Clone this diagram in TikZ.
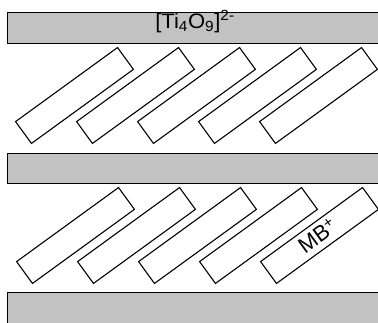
\documentclass[tikz,border=0pt]{standalone}
\usepackage{fontspec}
\setmainfont{Liberation Sans}
\usetikzlibrary{positioning}
\tikzstyle{band} = [rectangle,
			draw,
			line width = 0.8pt,
			fill = black!24,
			inner sep = 0pt,
			minimum width = 373pt]
\tikzstyle{dye} = [rectangle,
			draw,
			line width = 1.1pt,
			inner sep = 0pt,
			rotate = 36,
			minimum width = 126pt,
			minimum height = 27pt]
\tikzstyle{tag} = [inner sep = 0pt,
			font = \fontsize{21}{25}\selectfont]

\begin{document}
\begin{tikzpicture}[x = 1pt, y = 1pt, node distance = 1em]
	\useasboundingbox (0,0) rectangle (378,323);
	% inorganic layers
	\node [band, minimum height = 31pt] (layer1) at (193.5,295.5) {};
	\node [band, minimum height = 30pt] (layer2) at (193.5,155) {};
	\node [band, minimum height = 33pt] (layer3) at (193.5,14.5) {};
	\node [tag, anchor = base] (anion) at (195,294.7)
		{\scalebox{1.05}[1]{[Ti\textsubscript{4}O\textsubscript{9}]\textsuperscript{2-}}};
	% upper gallery
	\node [dye] (dye1) at (74.5,227.5) {};
	\node [dye] (dye2) at ([xshift=61pt]dye1) {};
	\node [dye] (dye3) at ([xshift=61pt]dye2) {};
	\node [dye] (dye4) at ([xshift=61pt]dye3) {};
	\node [dye] (dye5) at ([xshift=61pt]dye4) {};
	% lower gallery
	\node [dye] (dye6) at ([xshift=1pt, yshift=-140pt]dye1) {};
	\node [dye] (dye7) at ([xshift=61pt]dye6) {};
	\node [dye] (dye8) at ([xshift=61pt]dye7) {};
	\node [dye] (dye9) at ([xshift=61pt]dye8) {};
	\node [dye] (dye10) at ([xshift=61pt]dye9) {};
	\node [tag, rotate = 36, font = \fontsize{22}{26}\selectfont] (cation)
		at ([xshift=-2pt]dye10) {MB\textsuperscript{+}};
\end{tikzpicture}
\end{document}
